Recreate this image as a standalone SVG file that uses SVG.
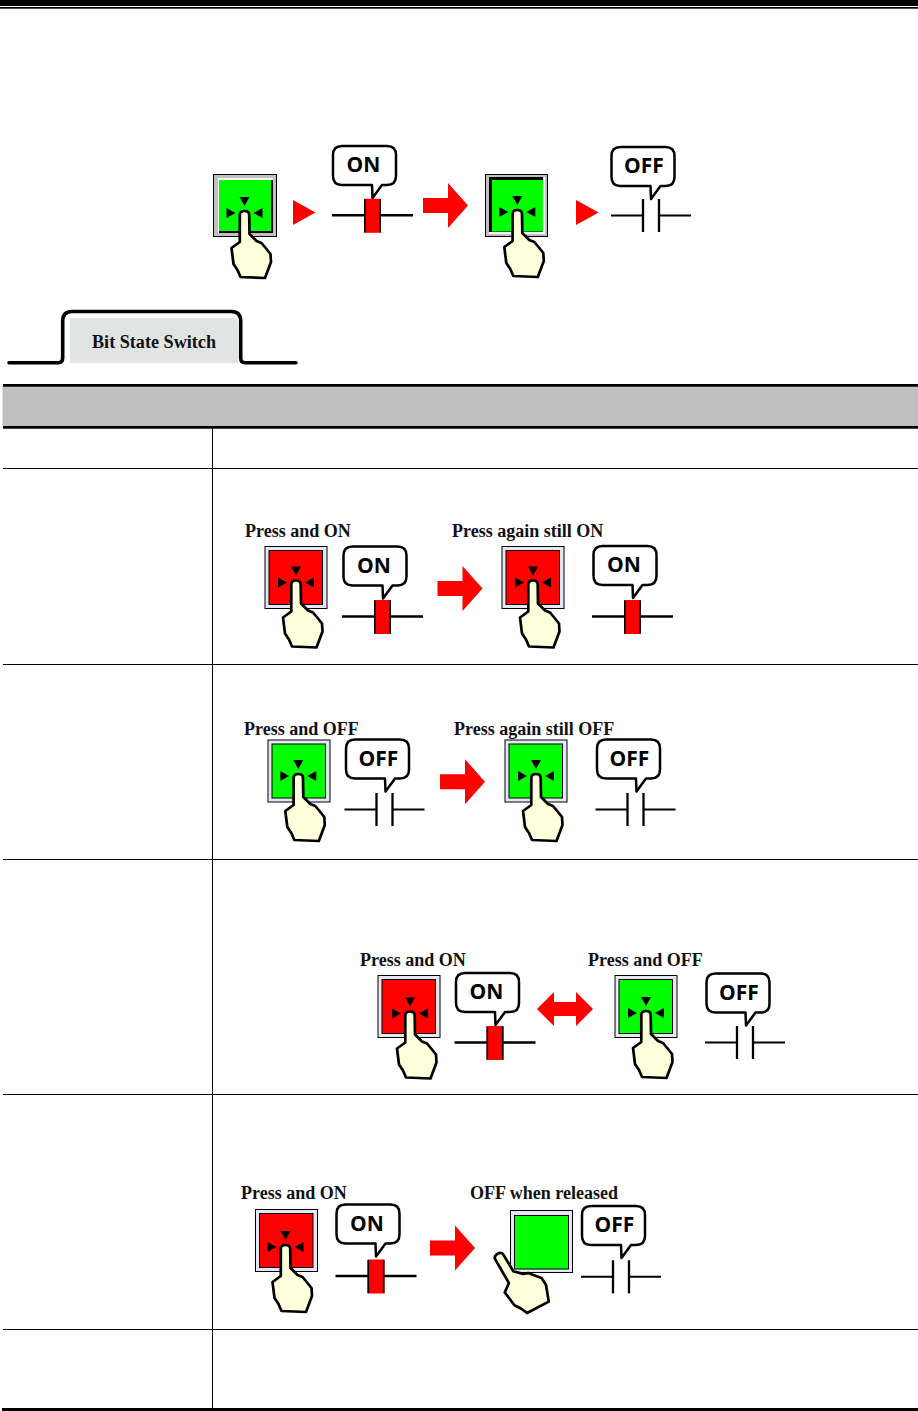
<svg xmlns="http://www.w3.org/2000/svg" xmlns:xlink="http://www.w3.org/1999/xlink" width="918" height="1411" viewBox="0 0 918 1411">
<style>
.lbl{font-family:"Liberation Serif","Times New Roman",serif;font-weight:bold;font-size:18px;fill:#111}
.say{font-family:"Open Sans","DejaVu Sans",sans-serif;font-weight:bold;font-size:21px;fill:#000;text-anchor:middle}
.bub{fill:#fff;stroke:#000;stroke-width:2.500;stroke-linejoin:round}
.hand{fill:#ffffdc;stroke:#000;stroke-width:2.700;stroke-linejoin:round}
.ln{stroke:#000;fill:none}
.red{fill:#f00}
.frame{fill:#e4e8f4;stroke:#000;stroke-width:1}
.in{stroke:#000;stroke-width:1}
.rule{fill:#000}
</style>
<defs>
<g id="press"><path d="M-5,-13H5L0,-4ZM-18,-2L-9,3L-18,8ZM18,-2L9,3L18,8Z" fill="#000"/><use href="#handS" xlink:href="#handS"/></g>
<g id="handS"><path class="hand" d="M-4.700,5Q-4.700,1 0,1Q4.700,1 4.700,5L5,24L12,31L17,33L22,39L26,44L26.500,52L20.500,68L-4,67L-7,60L-11,54L-13,38L-4.700,32Z"/></g>
<g id="btnRed"><rect class="frame" x=".5" y=".5" width="62" height="62"/><rect class="in" x="4.500" y="4.500" width="53.500" height="54" fill="#f00"/></g>
<g id="btnGreen"><rect class="frame" x=".5" y=".5" width="62" height="62"/><rect class="in" x="4.500" y="4.500" width="53.500" height="54" fill="#0f0"/></g>
<path id="bubShape" class="bub" d="M9,0H54Q63,0 63,9V30Q63,39 54,39H49L39.500,52L39,39H9Q0,39 0,30V9Q0,0 9,0Z"/>
<g id="bubOn"><use href="#bubShape" xlink:href="#bubShape"/><text class="say" x="30.500" y="26">ON</text></g>
<g id="bubOff"><use href="#bubShape" xlink:href="#bubShape"/><text class="say" x="32.500" y="26">OFF</text></g>
<g id="cOn"><path class="ln" stroke-width="2.400" d="M0,0H81"/><rect class="red" x="32" y="-16.500" width="17" height="34"/><path class="ln" stroke-width="1.600" d="M32.800,-16V17M48.200,-16V17"/></g>
<g id="cOff"><path class="ln" stroke-width="2" d="M0,0H32M48,0H80"/><path class="ln" stroke-width="2.300" d="M32,-16.500V16.500M48,-16.500V16.500"/></g>
<g id="bigArrow"><path class="red" d="M0,-7.500H25V-22.500L45,0L25,22.500V7.500H0Z"/></g>
</defs>

<g id="page-rules">
<rect class="rule" x="0" y="0" width="918" height="6"/>
<rect class="rule" x="0" y="7" width="918" height="1.700"/>
</g>

<g id="flow-top">
<g id="top-btn1"><rect x="213.500" y="174.500" width="63" height="62" fill="#c0c0c0" stroke="#000"/><rect x="218" y="178" width="55" height="55" fill="#fff"/><rect x="219" y="180" width="54" height="53" fill="#000"/><rect x="219" y="180" width="52" height="51" fill="#0f0"/><use href="#press" xlink:href="#press" x="244.500" y="210"/></g>
<g id="top-bub1"><use href="#bubOn" xlink:href="#bubOn" x="333" y="146"/></g>
<g id="top-contact1"><use href="#cOn" xlink:href="#cOn" x="332" y="215.300"/></g>
<g id="top-btn2"><rect x="485.500" y="174.500" width="62" height="62" fill="#c0c0c0" stroke="#000"/><rect x="489" y="177" width="56" height="57" fill="#fff"/><rect x="489" y="177" width="54" height="55" fill="#000"/><rect x="492" y="180" width="51" height="51.500" fill="#0f0"/><use href="#press" xlink:href="#press" x="517.300" y="209"/></g>
<g id="top-bub2"><use href="#bubOff" xlink:href="#bubOff" x="611.500" y="147"/></g>
<g id="top-contact2"><use href="#cOff" xlink:href="#cOff" x="611" y="215.500"/></g>
</g>

<g id="tab">
<path d="M70,318H232Q238,318 238,324V363H70Z" fill="#e0e4e2"/>
<path d="M9,362.700H58Q62.700,362.700 62.700,358V321Q62.700,311.500 72,311.500H231Q240.700,311.500 240.700,321V358Q240.700,362.700 245,362.700H296" fill="none" stroke="#000" stroke-width="3.600" stroke-linecap="round"/>
<text class="lbl" x="92" y="347.700" textLength="124" lengthAdjust="spacingAndGlyphs">Bit State Switch</text>
</g>

<g id="table">
<rect x="2.500" y="386" width="915.500" height="41" fill="#c0c0c0"/>
<rect class="rule" x="3" y="384" width="915" height="2.700"/>
<rect class="rule" x="3" y="426" width="915" height="2.700"/>
<rect class="rule" x="212" y="428" width="1" height="981"/>
<rect class="rule" x="3" y="468" width="915" height="1"/>
<rect class="rule" x="3" y="664" width="915" height="1"/>
<rect class="rule" x="3" y="859" width="915" height="1"/>
<rect class="rule" x="3" y="1094" width="915" height="1"/>
<rect class="rule" x="3" y="1329" width="915" height="1"/>
<rect class="rule" x="2" y="1408" width="916" height="3"/>
</g>

<g id="row-set-on">
<text class="lbl" x="245" y="537">Press and ON</text>
<text class="lbl" x="452" y="537">Press again still ON</text>
<g id="r1-btn1"><use href="#btnRed" xlink:href="#btnRed" x="264.500" y="546"/><use href="#press" xlink:href="#press" x="296" y="579.500"/></g>
<g id="r1-bub1"><use href="#bubOn" xlink:href="#bubOn" x="343.500" y="546.500"/></g>
<g id="r1-c1"><use href="#cOn" xlink:href="#cOn" x="342" y="616.500"/></g>
<g id="r1-btn2"><use href="#btnRed" xlink:href="#btnRed" x="501.500" y="546"/><use href="#press" xlink:href="#press" x="533" y="579.500"/></g>
<g id="r1-bub2"><use href="#bubOn" xlink:href="#bubOn" x="593.500" y="546"/></g>
<g id="r1-c2"><use href="#cOn" xlink:href="#cOn" x="592" y="616.500"/></g>
</g>

<g id="row-set-off">
<text class="lbl" x="244" y="735">Press and OFF</text>
<text class="lbl" x="454" y="735">Press again still OFF</text>
<g id="r2-btn1"><use href="#btnGreen" xlink:href="#btnGreen" x="267.500" y="739.500"/><use href="#press" xlink:href="#press" x="298.300" y="773"/></g>
<g id="r2-bub1"><use href="#bubOff" xlink:href="#bubOff" x="346" y="739.500"/></g>
<g id="r2-c1"><use href="#cOff" xlink:href="#cOff" x="344.500" y="809.500"/></g>
<g id="r2-btn2"><use href="#btnGreen" xlink:href="#btnGreen" x="504.500" y="739.500"/><use href="#press" xlink:href="#press" x="536" y="773"/></g>
<g id="r2-bub2"><use href="#bubOff" xlink:href="#bubOff" x="597" y="739.500"/></g>
<g id="r2-c2"><use href="#cOff" xlink:href="#cOff" x="595.500" y="809.500"/></g>
</g>

<g id="row-toggle">
<text class="lbl" x="360" y="966">Press and ON</text>
<text class="lbl" x="588" y="966">Press and OFF</text>
<g id="r3-btn1"><use href="#btnRed" xlink:href="#btnRed" x="377.500" y="975"/><use href="#press" xlink:href="#press" x="410" y="1010.500"/></g>
<g id="r3-bub1"><use href="#bubOn" xlink:href="#bubOn" x="456" y="973"/></g>
<g id="r3-c1"><use href="#cOn" xlink:href="#cOn" x="454.500" y="1042.500"/></g>
<g id="r3-btn2"><use href="#btnGreen" xlink:href="#btnGreen" x="614.500" y="975"/><use href="#press" xlink:href="#press" x="646" y="1010"/></g>
<g id="r3-bub2"><use href="#bubOff" xlink:href="#bubOff" x="706.500" y="973.500"/></g>
<g id="r3-c2"><use href="#cOff" xlink:href="#cOff" x="705" y="1042.500"/></g>
</g>

<g id="row-momentary">
<text class="lbl" x="241" y="1199">Press and ON</text>
<text class="lbl" x="470" y="1199">OFF when released</text>
<g id="r4-btn1"><use href="#btnRed" xlink:href="#btnRed" x="255" y="1209"/><use href="#press" xlink:href="#press" x="285.500" y="1244"/></g>
<g id="r4-bub1"><use href="#bubOn" xlink:href="#bubOn" x="336.500" y="1204.500"/></g>
<g id="r4-c1"><use href="#cOn" xlink:href="#cOn" x="335.500" y="1276"/></g>
<g id="r4-btn2"><rect class="frame" x="510.500" y="1210.500" width="62" height="62"/><rect class="in" x="514.500" y="1215.500" width="54" height="53.500" fill="#0f0"/><use href="#handS" xlink:href="#handS" transform="translate(497 1253) rotate(-30)"/></g>
<g id="r4-bub2"><use href="#bubOff" xlink:href="#bubOff" x="582" y="1206"/></g>
<g id="r4-c2"><use href="#cOff" xlink:href="#cOff" x="581" y="1276.700"/></g>
</g>

<g id="connectors">
<path class="red" d="M293,200L315.500,212.500L293,225Z"/>
<use href="#bigArrow" xlink:href="#bigArrow" x="423" y="205.500"/>
<path class="red" d="M576,200L598.500,212.500L576,225Z"/>
<use href="#bigArrow" xlink:href="#bigArrow" x="437.500" y="588.500"/>
<use href="#bigArrow" xlink:href="#bigArrow" x="440" y="781.700"/>
<path class="red" d="M537,1009L554,992V1002H576V992L593,1009L576,1026V1016H554V1026Z"/>
<use href="#bigArrow" xlink:href="#bigArrow" x="430" y="1248"/>
</g>
</svg>
